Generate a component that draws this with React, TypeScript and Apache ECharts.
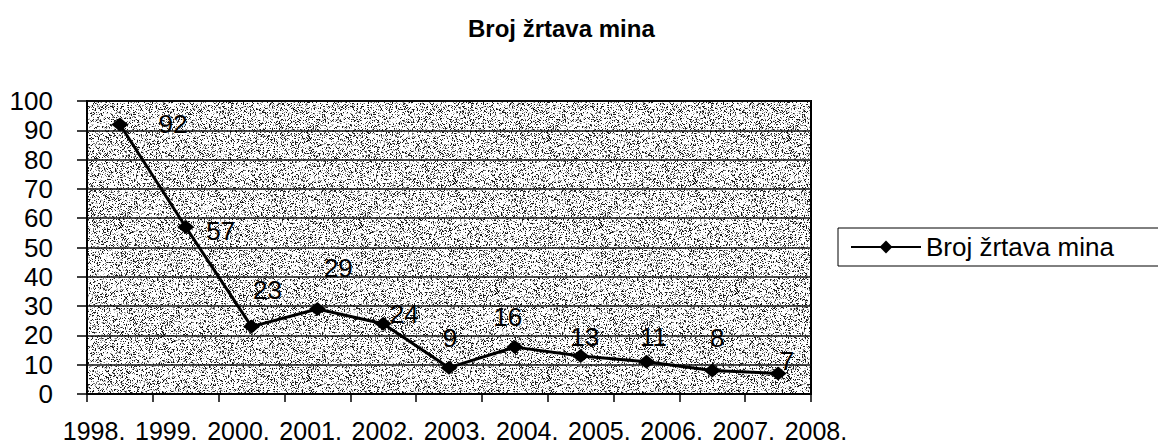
import React, { useEffect, useRef } from "react";
import * as echarts from "echarts";

const titleText = "Broj žrtava mina";
const seriesName = "Broj žrtava mina";
const years = ["1998.", "1999.", "2000.", "2001.", "2002.", "2003.", "2004.", "2005.", "2006.", "2007.", "2008."];
const victims = [92, 57, 23, 29, 24, 9, 16, 13, 11, 8, 7];
// label offsets relative to each point (style only)
const labelOffsets: [number, number][] = [
  [53, 0], [35, 4], [16, -37], [21, -41], [21, -10], [1, -30], [-7, -30], [4, -19], [7, -25], [5, -33], [9, -12],
];

const FONT = "'Liberation Sans', Arial, sans-serif";

function makeNoise(): HTMLCanvasElement {
  const size = 240;
  const c = document.createElement("canvas");
  c.width = size;
  c.height = size;
  const ctx = c.getContext("2d")!;
  const img = ctx.createImageData(size, size);
  let s = 987654321;
  const rnd = () => {
    s = (s * 1103515245 + 12345) & 0x7fffffff;
    return s / 0x7fffffff;
  };
  for (let i = 0; i < size * size; i++) {
    const r = rnd();
    let v = 255;
    if (r < 0.14) v = 25;
    else if (r < 0.23) v = 120;
    else if (r < 0.31) v = 200;
    img.data[i * 4] = v;
    img.data[i * 4 + 1] = v;
    img.data[i * 4 + 2] = v;
    img.data[i * 4 + 3] = 255;
  }
  ctx.putImageData(img, 0, 0);
  return c;
}

export default function App() {
  const ref = useRef<HTMLDivElement>(null);
  useEffect(() => {
    if (!ref.current) return;
    const chart = echarts.init(ref.current, undefined, { renderer: "svg" });
    const noise = makeNoise();
    chart.setOption({
      animation: false,
      backgroundColor: "#ffffff",
      title: {
        text: titleText,
        left: 468,
        top: 16,
        padding: 0,
        textStyle: { fontFamily: FONT, fontWeight: "bold", fontSize: 24, color: "#000" },
      },
      legend: {
        left: 838,
        top: 228,
        orient: "horizontal",
        borderColor: "#000",
        borderWidth: 1,
        borderRadius: 0,
        padding: [6, 52, 6, 12],
        itemWidth: 70,
        itemHeight: 16,
        textStyle: { fontFamily: FONT, fontSize: 26, color: "#000" },
        data: [seriesName],
      },
      grid: [
        {
          left: 87,
          right: 347,
          top: 101,
          bottom: 53,
          show: true,
          borderColor: "#000",
          borderWidth: 2,
          backgroundColor: { image: noise, repeat: "repeat", imageWidth: 240, imageHeight: 240 },
        },
        { left: 58, right: 306, top: 101, bottom: 53 },
      ],
      xAxis: [
        {
          type: "category",
          gridIndex: 0,
          data: years,
          boundaryGap: true,
          axisLine: { show: true, lineStyle: { color: "#000", width: 2 } },
          axisTick: { show: true, length: 8, lineStyle: { color: "#000", width: 1.5 } },
          axisLabel: { show: false },
          splitLine: { show: false },
        },
        {
          type: "category",
          gridIndex: 1,
          data: years,
          axisLine: { show: false },
          axisTick: { show: false },
          splitLine: { show: false },
          axisLabel: { show: true, margin: 24, interval: 0, fontFamily: FONT, fontSize: 25, color: "#000" },
        },
      ],
      yAxis: [
        {
          type: "value",
          gridIndex: 0,
          min: 0,
          max: 100,
          interval: 10,
          axisLine: { show: true, lineStyle: { color: "#000", width: 2 } },
          axisTick: { show: true, length: 10, lineStyle: { color: "#000", width: 1.5 } },
          axisLabel: { margin: 34, fontFamily: FONT, fontSize: 26, color: "#000", padding: [5, 0, 0, 0] },
          splitLine: { show: true, lineStyle: { color: "#111", width: 1.5 } },
        },
        { type: "value", gridIndex: 1, min: 0, max: 1, show: false },
      ],
      series: [
        {
          name: seriesName,
          type: "line",
          xAxisIndex: 0,
          yAxisIndex: 0,
          data: victims.map((v, i) => ({
            value: v,
            label: { offset: labelOffsets[i] },
          })),
          symbol: "diamond",
          symbolSize: [17, 14],
          itemStyle: { color: "#000" },
          lineStyle: { color: "#000", width: 3 },
          label: {
            show: true,
            position: "inside",
            fontFamily: FONT,
            fontSize: 26,
            color: "#000",
          },
        },
      ],
    });
    return () => chart.dispose();
  }, []);
  return <div ref={ref} style={{ position: "absolute", left: 0, top: 0, width: 1158, height: 447 }} />;
}
